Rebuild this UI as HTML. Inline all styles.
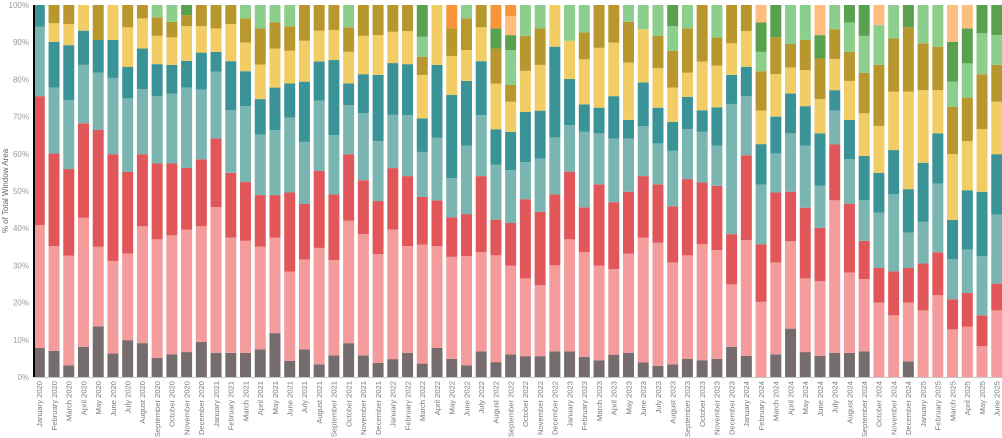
<!DOCTYPE html>
<html><head><meta charset="utf-8"><style>
html,body{margin:0;padding:0;background:#fff;width:1002px;height:438px;overflow:hidden}
svg{display:block;font-family:"Liberation Sans",sans-serif}
</style></head><body>
<svg id="chart" width="1002" height="438" viewBox="0 0 1002 438" xmlns="http://www.w3.org/2000/svg"></svg>
<script>
const monthNames = ["January","February","March","April","May","June","July","August","September","October","November","December"];
const startYear = 2020;
const barCount = 66;
const yTicks = [0,10,20,30,40,50,60,70,80,90,100];
const gray = [7.8,7,3.1,8.1,13.6,6.3,9.9,9.1,5.1,6.1,6.7,9.4,6.5,6.5,6.5,7.4,11.8,4.3,7.4,3.4,5.8,9.1,5.8,3.8,4.8,6.5,3.6,7.8,4.9,3.1,6.9,4,6.1,5.6,5.6,6.9,6.9,5.4,4.5,6,6.5,3.9,3,3.4,4.9,4.5,4.9,8.1,5.7,0,6.1,13,6.7,5.7,6.5,6.5,6.9,0,0,4.2,0,0,0,0,0,0];
const pink = [33,28.2,29.5,34.7,21.4,24.9,23.3,31.4,31.9,32,32.9,31.1,39.2,31,30.1,27.6,25.7,24,24.2,31.3,25.6,32.9,32.6,29.2,34.8,28.7,32,27.4,27.4,29.4,26.7,28.7,23.8,20.9,19.1,23.1,30.1,28.2,25.4,23,26.7,33.6,33.1,27.4,27.8,31.2,29.2,16.8,31.1,20.2,24.7,23.5,19.8,20.1,41,21.6,19.4,20,16.6,15.8,17.9,22,12.8,13.5,8.3,17.9];
const red = [34.7,24.9,23.3,25.4,31.4,28.7,22,19.4,20.4,19.3,16.6,18,18.4,17.4,15.8,13.9,11.4,21.3,14.9,20.7,17.7,17.9,14.5,14.3,16.5,18.8,12.8,12.3,10.6,11.3,20.4,9.6,11.5,21.3,19.7,19.1,18.2,12,21.9,18,16.6,16.5,15.7,15.1,20.5,16.6,17.3,13.5,22.8,15.5,18.8,13.3,19,14.3,15,18.5,10.3,9.3,11.8,9.3,12.6,11.5,8.1,9.1,8.3,7.2];
const lightTeal = [18.7,17.7,18.5,15.7,15.4,20.5,19.7,17.5,18.1,18.8,21.6,18.8,18,16.8,20.4,16.3,17.5,20.1,16.7,18.9,15.9,13.2,18,16.1,14.3,16.4,12.1,16.8,10.6,18.4,16.4,14.8,14.2,10,14.3,15.3,12.5,20.3,13.7,17.1,14.3,13.4,11,14.9,13.4,13.6,10.8,35,15.9,16,10.5,15.7,16.7,11.3,9.1,12,10.9,14.9,20.7,9.5,11.2,18.5,10.8,11.7,15.9,18.6];
const teal = [5.8,12.3,14.8,9.2,8.8,10.2,8.5,10.9,8.6,7.7,7.2,9.9,5.3,13.2,9.4,9.5,11.4,9.2,16.2,10.5,20.2,5.8,10.5,17.8,13.9,13.7,9,19.6,22.3,17.4,14.5,9.5,10.3,13.5,12.9,24.4,12.4,7.4,6.9,11.4,5,11.8,9.6,7.8,8.7,5.8,10.3,7.8,7.9,10.9,9.9,10.7,10.6,14.1,5.5,10.5,11.9,10.7,11.9,11.7,15.9,13.5,10.5,15.9,17.3,16.2];
const yellow = [0,5,5.7,6.9,0,9.4,10.6,8.1,7.6,7.4,9.3,7.1,6.3,10,7.7,9.3,10.5,8.8,11,8.3,8.1,8.5,10.3,10.7,8.4,8.9,11.7,16.1,10.5,8.3,9.1,12.3,8.1,11,12.3,11.2,10.3,12.1,16.1,14.4,15.4,14.3,10.6,9.2,6.5,13.1,11.2,8.5,9.6,9,11.4,7,9.7,9.2,8.4,10.5,11.5,12.6,15.7,26.2,19.5,11.6,17.7,13.2,16.8,14.1];
const olive = [0,4.9,5.1,0,9.4,0,6,3.6,5,4.2,3,5.7,6.3,5.1,6.5,9.7,7,6.6,9.6,6.9,6.7,6.6,8.3,8.1,7.2,7,4.9,0,7.4,8.5,6,9.4,4.5,9.4,9.8,0,0,7.2,11.5,10.1,11,0,8.7,9.9,11.9,15.2,7.6,10.3,7,10.6,9.9,6.3,8.1,10.9,8,7.8,10.9,16.4,14.3,17.3,12.6,11.7,12.7,11.7,14.8,9.9];
const lightGreen = [0,0,0,0,0,0,0,0,3.3,4.5,0,0,0,0,3.6,6.3,4.7,5.7,0,0,0,6,0,0,0,0,5.4,0,0,3.6,0,0,9.4,8.3,6.3,0,9.6,7.4,0,0,4.5,6.5,8.3,6.6,6.3,0,8.7,0,0,5.2,0,10.5,9.4,0,6.5,7.9,9.9,10.7,9,0,10.3,11.2,6.8,9.2,11,8];
const green = [0,0,0,0,0,0,0,0,0,0,2.7,0,0,0,0,0,0,0,0,0,0,0,0,0,0,0,8.5,0,0,0,0,5.4,4,0,0,0,0,0,0,0,0,0,0,5.7,0,0,0,0,0,7.9,8.7,0,0,6.3,0,4.7,8.3,0,0,6,0,0,10.7,9.4,7.6,8.1];
const lightOrange = [0,0,0,0,0,0,0,0,0,0,0,0,0,0,0,0,0,0,0,0,0,0,0,0,0,0,0,0,0,0,0,0,5.1,0,0,0,0,0,0,0,0,0,0,0,0,0,0,0,0,4.7,0,0,0,8.1,0,0,0,5.4,0,0,0,0,9.9,6.3,0,0];
const orange = [0,0,0,0,0,0,0,0,0,0,0,0,0,0,0,0,0,0,0,0,0,0,0,0,0,0,0,0,6.3,0,0,6.3,3,0,0,0,0,0,0,0,0,0,0,0,0,0,0,0,0,0,0,0,0,0,0,0,0,0,0,0,0,0,0,0,0,0];

const series = [gray,pink,red,lightTeal,teal,yellow,olive,lightGreen,green,lightOrange,orange];
const seriesNames = ["gray","pink","red","light-teal","teal","yellow","olive","light-green","green","light-orange","orange"];
const colors = ["#766c6e","#f49b9b","#e15759","#7ab5b1","#3a9396","#f2cd66","#b8982e","#8ccf8d","#59a14f","#ffbe7d","#f8943a"];

const NS = "http://www.w3.org/2000/svg";
const svg = document.getElementById("chart");
const plotL = 34, plotTop = 5, plotBot = 377, pitch = 14.73, firstX = 39.3, barW = 11;
function yScale(p){ return plotBot - (plotBot - plotTop) * p / 100; }
function xScale(i){ return firstX + i * pitch; }
function mk(tag, attrs){ const e = document.createElementNS(NS, tag); for (const k in attrs) e.setAttribute(k, attrs[k]); svg.appendChild(e); return e; }

yTicks.forEach(t => {
  const tx = mk("text", {x: 29, y: yScale(t) + 3, "text-anchor": "end", "font-size": 8, fill: "#9a9a9a"});
  tx.textContent = t + "%";
  
  
});
const yt = mk("text", {x: 0, y: 0, "text-anchor": "middle", "font-size": 8, fill: "#666", transform: "translate(8,191) rotate(-90)"});
yt.textContent = "% of Total Window Area";



for (let i = 0; i < barCount; i++) {
  let total = 0;
  series.forEach(s => total += s[i]);
  let cum = 0;
  const g = mk("g", {});
  
  
  series.forEach((s, k) => {
    const v = s[i];
    if (v <= 0) return;
    const y0 = yScale(cum / total * 100);
    cum += v;
    const y1 = yScale(cum / total * 100);
    const r = document.createElementNS(NS, "rect");
    r.setAttribute("x", xScale(i) - barW / 2);
    r.setAttribute("y", y1);
    r.setAttribute("width", barW);
    r.setAttribute("height", Math.max(0, y0 - y1));
    r.setAttribute("fill", colors[k]);
    
    
    g.appendChild(r);
  });
  const m = i % 12, yr = startYear + Math.floor(i / 12);
  const lb = mk("text", {x: 0, y: 0, "text-anchor": "end", "font-size": 7.6, fill: "#7a7a7a", transform: "translate(" + (xScale(i) + 2.8) + ",381) rotate(-90)"});
  lb.textContent = monthNames[m] + " " + yr;
  
  
}
const base = mk("line", {x1: plotL, x2: 1002, y1: plotBot + 0.5, y2: plotBot + 0.5, stroke: "#c8c8c8", "stroke-width": 1});


const ax = mk("line", {x1: plotL, x2: plotL, y1: plotTop, y2: plotBot, stroke: "#000", "stroke-width": 2});


</script>
</body></html>
